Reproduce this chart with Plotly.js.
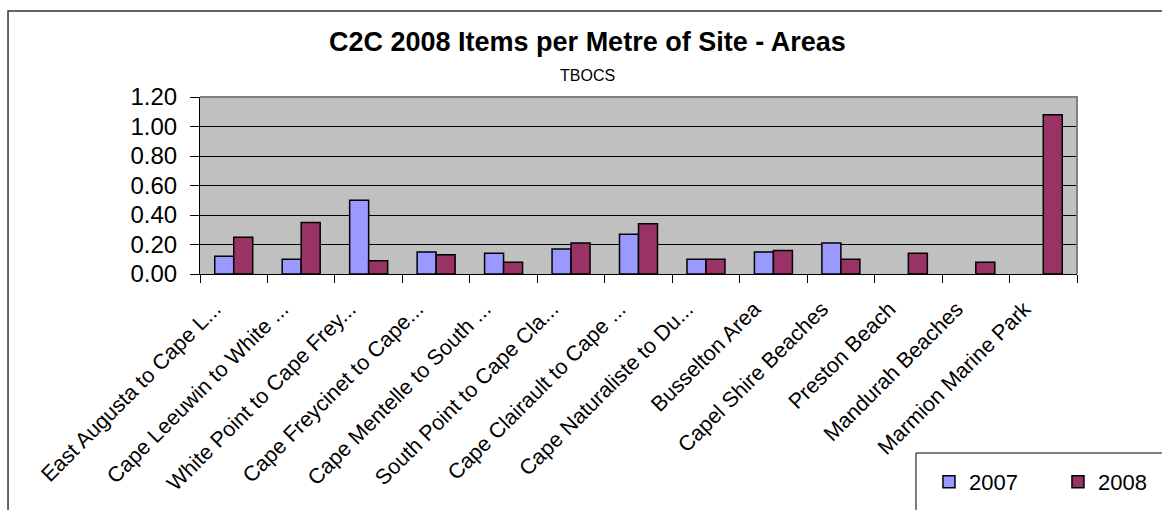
<!DOCTYPE html>
<html>
<head>
<meta charset="utf-8">
<script src="https://cdn.plot.ly/plotly-3.0.1.min.js"></script>
<style>
  html, body { margin: 0; padding: 0; background: #fff; }
  #chart { width: 1162px; height: 510px; }
</style>
</head>
<body>
<div id="chart"></div>
<script>
const categories = [
  "East Augusta to Cape L...",
  "Cape Leeuwin to White ...",
  "White Point to Cape Frey...",
  "Cape Freycinet to Cape...",
  "Cape Mentelle to South ...",
  "South Point to Cape Cla...",
  "Cape Clairault to Cape ...",
  "Cape Naturaliste to Du...",
  "Busselton Area",
  "Capel Shire Beaches",
  "Preston Beach",
  "Mandurah Beaches",
  "Marmion Marine Park"
];
const values2007 = [0.12, 0.10, 0.50, 0.15, 0.14, 0.17, 0.27, 0.10, 0.15, 0.21, null, null, null];
const values2008 = [0.25, 0.35, 0.09, 0.13, 0.08, 0.21, 0.34, 0.10, 0.16, 0.10, 0.14, 0.08, 1.08];
const seriesNames = ["2007", "2008"];
const yTicks = [0, 0.2, 0.4, 0.6, 0.8, 1.0, 1.2];
const titleText = "C2C 2008 Items per Metre of Site - Areas";
const subtitleText = "TBOCS";

const FONT = "Liberation Sans, Arial, sans-serif";

const traces = [
  {
    type: "bar", name: seriesNames[0], x: categories, y: values2007,
    marker: { color: "#9999FF", line: { color: "#000000", width: 1.5 } }
  },
  {
    type: "bar", name: seriesNames[1], x: categories, y: values2008,
    marker: { color: "#993366", line: { color: "#000000", width: 1.5 } }
  }
];

const layout = {
  width: 1162, height: 510,
  margin: { l: 200, r: 85, t: 97, b: 236, pad: 0, autoexpand: false },
  paper_bgcolor: "#ffffff",
  plot_bgcolor: "#C0C0C0",
  font: { family: FONT, color: "#000" },
  barmode: "group",
  bargap: 0.437,
  bargroupgap: 0,
  showlegend: true,
  legend: {
    orientation: "h",
    x: 0.8312, xanchor: "left",
    y: -1.175, yanchor: "middle",
    font: { size: 22, family: FONT, color: "#000" },
    bgcolor: "rgba(0,0,0,0)",
    borderwidth: 0,
    entrywidth: 84, entrywidthmode: "pixels",
    itemclick: false
  },
  xaxis: {
    type: "category",
    tickson: "boundaries",
    ticks: "outside", ticklen: 8, tickcolor: "#000", tickwidth: 1,
    showline: true, linecolor: "#000", linewidth: 1,
    showgrid: false,
    tickangle: -45,
    ticklabelshift: -19,
    ticklabelstandoff: 13,
    tickfont: { size: 21.5, family: FONT, color: "#000" },
    automargin: false
  },
  yaxis: {
    range: [0, 1.2],
    tickvals: yTicks,
    tickformat: ".2f",
    ticks: "outside", ticklen: 9, tickcolor: "#000", tickwidth: 1,
    showline: true, linecolor: "#000", linewidth: 1,
    showgrid: true, gridcolor: "#000", gridwidth: 1,
    zeroline: false,
    ticklabelstandoff: 8,
    tickfont: { size: 24, family: FONT, color: "#000" },
    automargin: false
  },
  shapes: [
    { type: "path", xref: "paper", yref: "paper", path: "M0,1 L1,1 L1,0",
      line: { color: "#808080", width: 2 }, layer: "above" },
    { type: "rect", xref: "paper", yref: "paper",
      x0: -0.2189, y0: 1.4859, x1: 1.3, y1: -2.0,
      line: { color: "#333333", width: 1.5 }, fillcolor: "rgba(0,0,0,0)", layer: "below" },
    { type: "rect", xref: "paper", yref: "paper",
      x0: 0.8164, y0: -1.0113, x1: 1.3, y1: -2.0,
      line: { color: "#000000", width: 1 }, fillcolor: "rgba(0,0,0,0)", layer: "below" }
  ],
  annotations: [
    { text: "<b>" + titleText + "</b>", xref: "paper", yref: "paper",
      x: 0.4424, y: 1.31, xanchor: "center", yanchor: "middle", showarrow: false,
      font: { size: 27, family: FONT, color: "#000" } },
    { text: subtitleText, xref: "paper", yref: "paper",
      x: 0.4424, y: 1.122, xanchor: "center", yanchor: "middle", showarrow: false,
      font: { size: 16, family: FONT, color: "#000" } }
  ]
};

Plotly.newPlot("chart", traces, layout, { displayModeBar: false, staticPlot: true });
</script>
</body>
</html>
